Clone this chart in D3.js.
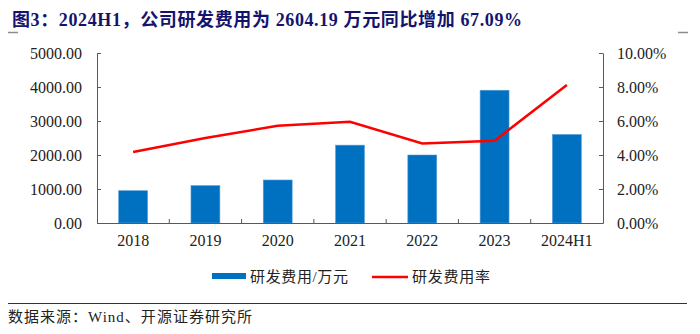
<!DOCTYPE html>
<html>
<head>
<meta charset="utf-8">
<script src="https://cdn.jsdelivr.net/npm/d3@7"></script>
<style>
  body { margin: 0; background: #fff; }
  svg { display: block; }
</style>
</head>
<body>
<svg id="chart" width="700" height="334"></svg>
<script>
// R&D spending (10k CNY) and R&D ratio, 2018 - 2024H1
const years = ["2018", "2019", "2020", "2021", "2022", "2023", "2024H1"];
const rdExpense = [950, 1100, 1265, 2290, 2000, 3905, 2604.19];
const rdRatio = [4.18, 5.0, 5.72, 5.96, 4.68, 4.84, 8.12];
const leftTicks = [0, 1000, 2000, 3000, 4000, 5000];
const rightTicks = [0, 2, 4, 6, 8, 10];

const svg = d3.select("#chart");
const plot = {left: 97, right: 603, top: 53, bottom: 223};

const x = d3.scaleBand().domain(years).range([plot.left, plot.right]).paddingInner(0).paddingOuter(0);
const yL = d3.scaleLinear().domain([0, 5000]).range([plot.bottom, plot.top]);
const yR = d3.scaleLinear().domain([0, 10]).range([plot.bottom, plot.top]);

const serif = '"Liberation Serif", "Times New Roman", "Noto Sans CJK SC", serif';
const axisColor = "#595959";
const textColor = "#222";

// title
svg.append("text")
    .attr("x", 12).attr("y", 26)
    .attr("font-family", serif)
    .attr("font-size", 18)
    .attr("font-weight", "bold")
    .attr("fill", "#14146e")
    .attr("textLength", 510)
    .attr("lengthAdjust", "spacing")
    .text("图3：2024H1，公司研发费用为 2604.19 万元同比增加 67.09%");

svg.append("line").attr("x1", 8).attr("x2", 18).attr("y1", 32.5).attr("y2", 32.5)
    .attr("stroke", "#8c8c8c").attr("stroke-width", 1.5);
svg.append("line").attr("x1", 678).attr("x2", 688).attr("y1", 32.5).attr("y2", 32.5)
    .attr("stroke", "#8c8c8c").attr("stroke-width", 1.5);

// bars
svg.append("g").selectAll("rect")
    .data(years.map((y, i) => ({year: y, v: rdExpense[i]})))
    .join("rect")
    .attr("x", d => x(d.year) + x.bandwidth() * 0.3)
    .attr("width", x.bandwidth() * 0.4)
    .attr("y", d => yL(d.v))
    .attr("height", d => plot.bottom - yL(d.v))
    .attr("fill", "#0070c0")
    .attr("stroke", "#5a9fd6")
    .attr("stroke-width", 0.6);

function styleTicks(g) {
    g.select(".domain").attr("stroke", axisColor);
    g.selectAll(".tick line").attr("stroke", axisColor);
    g.selectAll(".tick text").attr("font-family", serif).attr("font-size", 16).attr("fill", textColor);
}

// left axis
svg.append("g")
    .attr("transform", `translate(${plot.left},0)`)
    .call(d3.axisLeft(yL).tickValues(leftTicks).tickSizeInner(-4).tickSizeOuter(0).tickPadding(15)
        .tickFormat(d => d3.format(".2f")(d)))
    .call(styleTicks);

// right axis
svg.append("g")
    .attr("transform", `translate(${plot.right},0)`)
    .call(d3.axisRight(yR).tickValues(rightTicks).tickSizeInner(-4).tickSizeOuter(0).tickPadding(14)
        .tickFormat(d => d3.format(".2f")(d) + "%"))
    .call(styleTicks);

// category axis, ticks between categories
svg.append("g")
    .attr("transform", `translate(0,${plot.bottom})`)
    .call(d3.axisBottom(x).tickSize(0).tickPadding(12))
    .call(styleTicks);
svg.append("g").selectAll("line")
    .data(years.slice(1))
    .join("line")
    .attr("x1", d => x(d)).attr("x2", d => x(d))
    .attr("y1", plot.bottom - 4).attr("y2", plot.bottom)
    .attr("stroke", axisColor);

// ratio line
const line = d3.line()
    .x((d, i) => x(years[i]) + x.bandwidth() / 2)
    .y(d => yR(d));
svg.append("path")
    .datum(rdRatio)
    .attr("d", line)
    .attr("fill", "none")
    .attr("stroke", "#ff0000")
    .attr("stroke-width", 2.5);

// legend
const legend = svg.append("g").attr("font-family", serif).attr("font-size", 15).attr("fill", textColor);
legend.append("rect").attr("x", 212).attr("y", 273).attr("width", 34).attr("height", 6).attr("fill", "#0070c0");
legend.append("text").attr("x", 250).attr("y", 282).attr("textLength", 98).text("研发费用/万元");
legend.append("line").attr("x1", 372).attr("x2", 408).attr("y1", 277).attr("y2", 277)
    .attr("stroke", "#ff0000").attr("stroke-width", 2.5);
legend.append("text").attr("x", 412).attr("y", 282).attr("textLength", 78).text("研发费用率");

// source footer
svg.append("line").attr("x1", 8).attr("x2", 687).attr("y1", 303.5).attr("y2", 303.5)
    .attr("stroke", "#333").attr("stroke-width", 1);
svg.append("text")
    .attr("x", 8).attr("y", 322)
    .attr("font-family", serif).attr("font-size", 15).attr("fill", textColor)
    .attr("textLength", 244)
    .text("数据来源：Wind、开源证券研究所");
</script>
</body>
</html>
